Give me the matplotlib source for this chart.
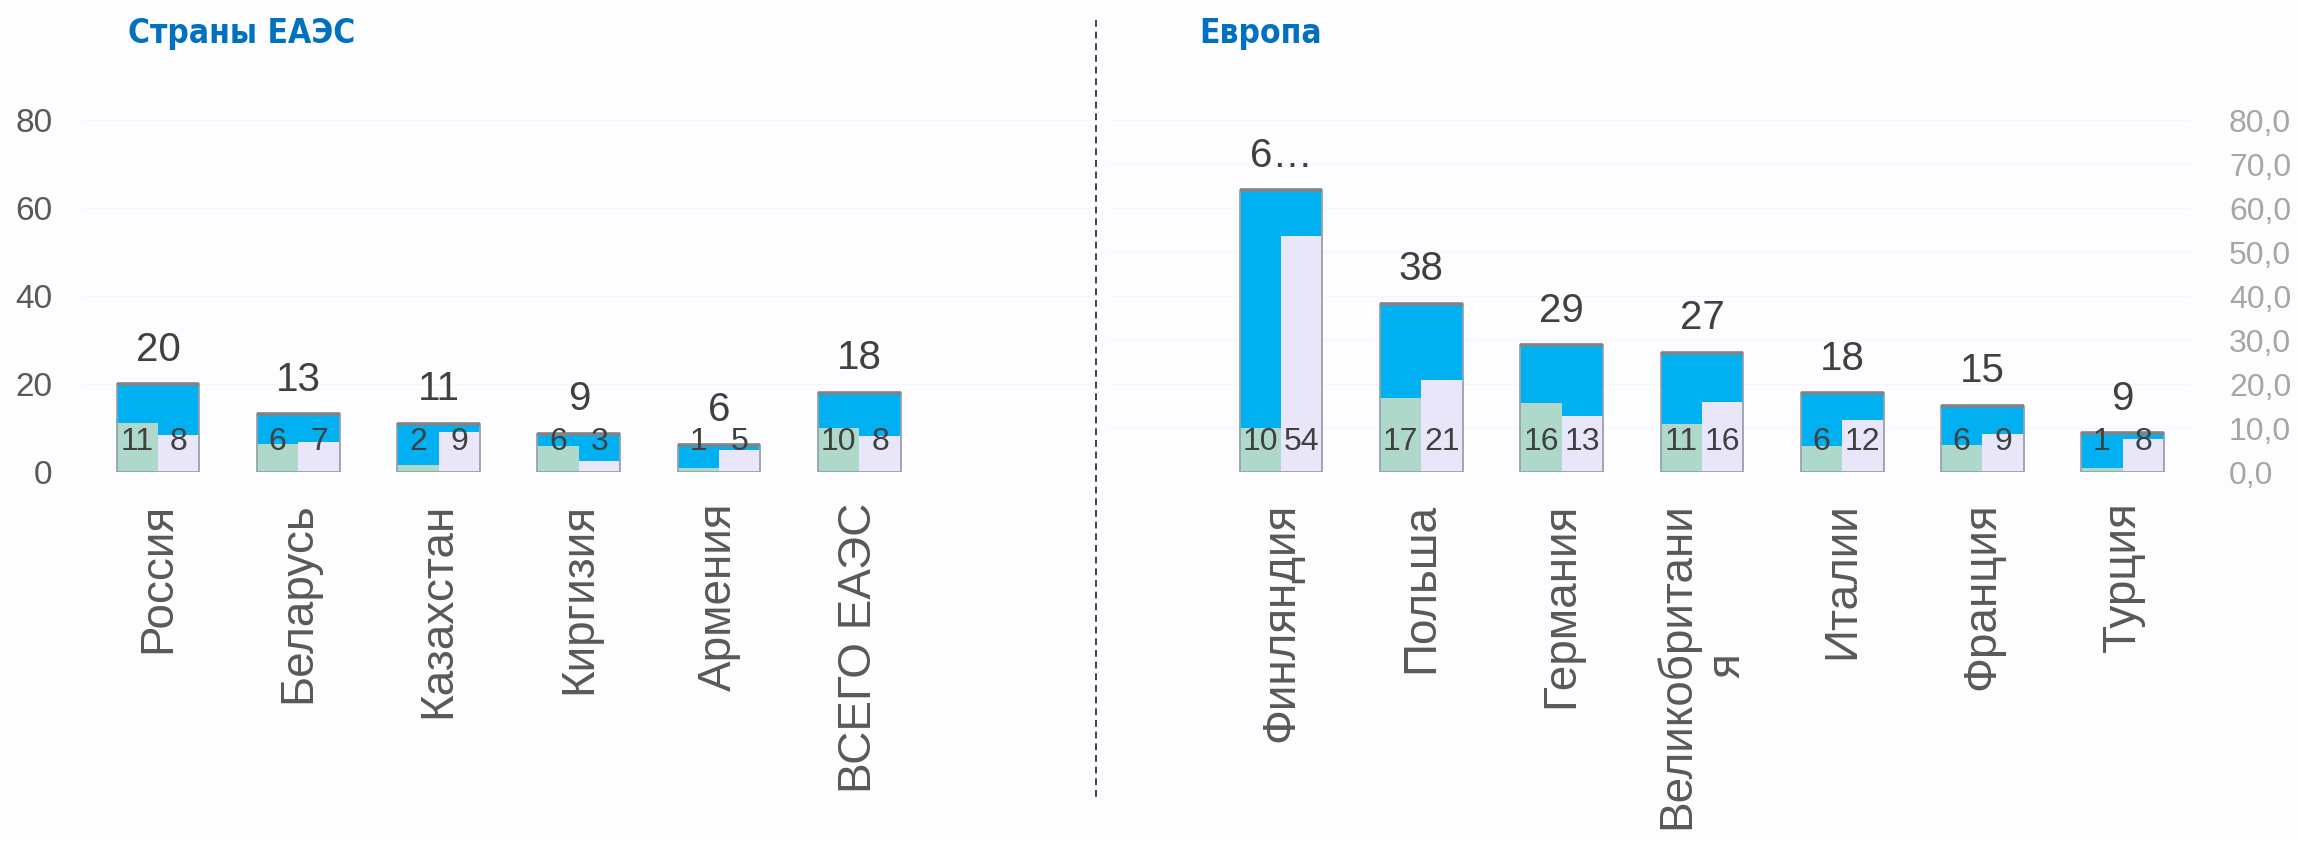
import matplotlib
matplotlib.use("Agg")
import matplotlib.pyplot as plt
from matplotlib.lines import Line2D
from matplotlib import font_manager

# data
eaes_names = ["Россия", "Беларусь", "Казахстан", "Киргизия", "Армения", "ВСЕГО ЕАЭС"]
eaes_total = [19.9, 13.1, 11.0, 8.7, 6.2, 18.0]
eaes_green = [11.2, 6.4, 1.6, 5.8, 0.8, 9.9]
eaes_violet = [8.5, 6.9, 9.2, 2.6, 5.1, 8.2]
eaes_total_lbl = ["20", "13", "11", "9", "6", "18"]
eaes_green_lbl = ["11", "6", "2", "6", "1", "10"]
eaes_violet_lbl = ["8", "7", "9", "3", "5", "8"]

eu_names = ["Финляндия", "Польша", "Германия", "Великобритани\nя", "Италии", "Франция", "Турция"]
eu_total = [64.0, 38.2, 28.8, 27.0, 17.9, 15.0, 8.8]
eu_green = [9.9, 16.8, 15.7, 10.8, 5.8, 6.1, 1.0]
eu_violet = [53.7, 21.0, 12.8, 15.8, 11.9, 8.6, 7.6]
eu_total_lbl = ["6…", "38", "29", "27", "18", "15", "9"]
eu_green_lbl = ["10", "17", "16", "11", "6", "6", "1"]
eu_violet_lbl = ["54", "21", "13", "16", "12", "9", "8"]

bg = "#FDFCFF"
blue = "#00B0F0"
green = "#ADD8CA"
violet = "#E8E6F8"
dark = "#404040"
W, H = 2298, 841

plt.rcParams["font.family"] = ["Liberation Sans", "DejaVu Sans"]

# a narrow bold face for the titles, if one is installed
names_avail = {f.name for f in font_manager.fontManager.ttflist}
condensed = [f for f in font_manager.fontManager.ttflist
             if f.name == "DejaVu Sans" and f.stretch == "condensed" and f.weight == 700]
if "Liberation Sans Narrow" in names_avail:
    title_kw = dict(family=["Liberation Sans Narrow", "DejaVu Sans"], fontweight="bold", fontsize=25)
elif condensed:
    title_kw = dict(fontproperties=font_manager.FontProperties(fname=condensed[0].fname, size=24))
else:
    title_kw = dict(family=["Liberation Sans", "DejaVu Sans"], fontweight="bold", fontsize=23)

fig = plt.figure(figsize=(W / 100, H / 100), dpi=100, facecolor=bg)

def px_axes(x0, x1, y0, y1):
    return fig.add_axes([x0 / W, 1 - y1 / H, (x1 - x0) / W, (y1 - y0) / H])

def draw_panel(ax, names, total, gr, vi, tl, gl, vl):
    ax.set_facecolor(bg)
    x = list(range(len(names)))
    w = 0.59
    iw = w / 2
    ax.bar(x, total, width=w, color=blue, zorder=2)
    ax.bar([i - iw / 2 for i in x], gr, width=iw, color=green, zorder=3)
    ax.bar([i + iw / 2 for i in x], vi, width=iw, color=violet, zorder=3)
    ax.bar(x, total, width=w, fill=False, edgecolor="#95A2AC", linewidth=1.3, zorder=4)
    ax.hlines(total, [i - w / 2 for i in x], [i + w / 2 for i in x],
              color="#7E8488", linewidth=2.6, zorder=5)
    for i in x:
        ax.annotate(tl[i], (i, total[i]), xytext=(0, 25), textcoords="offset points",
                    ha="center", va="center", fontsize=29, color=dark, zorder=6)
        ax.text(i - iw / 2, 6.8, gl[i], ha="center", va="center", fontsize=23,
                color=dark, zorder=6)
        ax.text(i + iw / 2, 6.8, vl[i], ha="center", va="center", fontsize=23,
                color=dark, zorder=6)
    ax.set_xticks(x)
    ax.set_xticklabels(names, rotation=90, fontsize=33, color="#595959",
                       multialignment="center")
    ax.tick_params(axis="x", length=0, pad=22)
    ax.set_ylim(0, 80)
    for s in ax.spines.values():
        s.set_visible(False)
    ax.grid(axis="y", color="#F7F6FA", linewidth=1, zorder=0)
    ax.set_axisbelow(True)

# left panel: EAEU countries
ax1 = px_axes(83, 1095, 120, 472)
draw_panel(ax1, eaes_names, eaes_total, eaes_green, eaes_violet,
           eaes_total_lbl, eaes_green_lbl, eaes_violet_lbl)
ax1.set_xlim(-0.535, 6.68)
ax1.set_yticks([0, 20, 40, 60, 80])
ax1.tick_params(axis="y", length=0, pad=22, labelsize=24, labelcolor="#595959")

# right panel: Europe
ax2 = px_axes(1110, 2190, 120, 472)
draw_panel(ax2, eu_names, eu_total, eu_green, eu_violet,
           eu_total_lbl, eu_green_lbl, eu_violet_lbl)
ax2.set_xlim(-1.22, 6.48)
ax2.set_yticks(range(0, 81, 10))
ax2.set_yticklabels([f"{v:.1f}".replace(".", ",") for v in range(0, 81, 10)])
ax2.yaxis.tick_right()
ax2.tick_params(axis="y", which="both", length=0, pad=28, labelsize=23,
                labelcolor="#A6A6A6")

# panel titles
fig.text(128 / W, 1 - 33 / H, "Страны ЕАЭС", color="#0070C0", va="center",
         ha="left", **title_kw)
fig.text(1199 / W, 1 - 33 / H, "Европа", color="#0070C0", va="center",
         ha="left", **title_kw)

# dashed separator
fig.add_artist(Line2D([1096 / W, 1096 / W], [1 - 20 / H, 1 - 797 / H],
                      transform=fig.transFigure, color="#3F3F50", linewidth=1.4,
                      linestyle=(0, (3.5, 2.5))))

fig.savefig("out.png", dpi=100, facecolor=bg)
